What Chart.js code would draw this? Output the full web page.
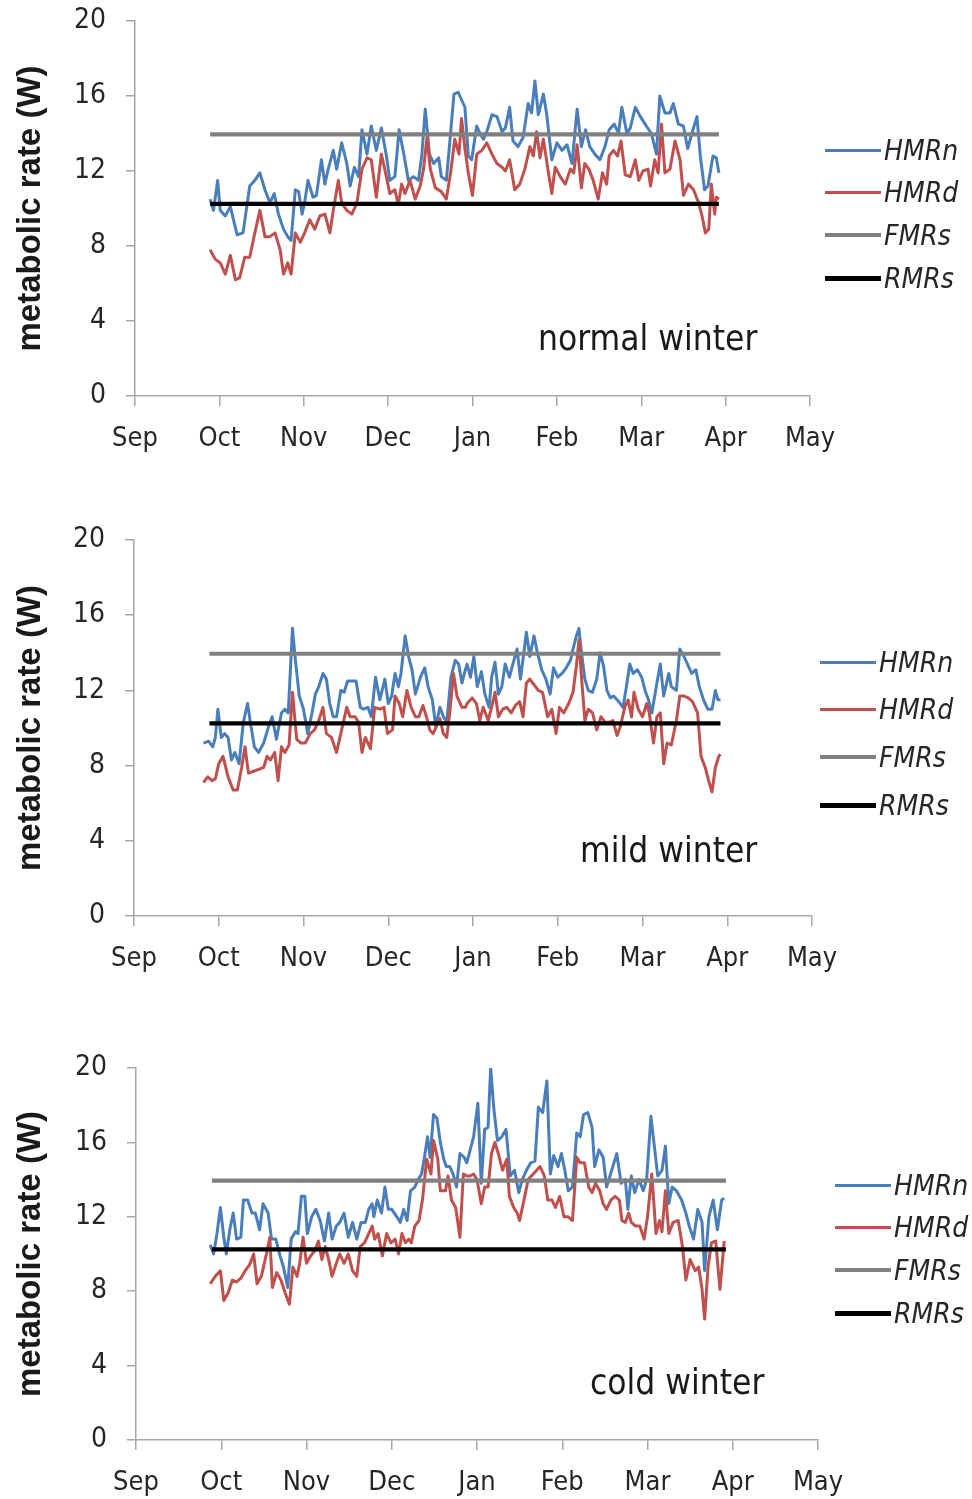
<!DOCTYPE html>
<html>
<head>
<meta charset="utf-8">
<script src="https://cdn.jsdelivr.net/npm/chart.js@4.4.1/dist/chart.umd.min.js"></script>
<style>
  html, body { margin: 0; padding: 0; background: #ffffff; }
  body { width: 972px; height: 1499px; position: relative; overflow: hidden; }
  .panel { position: absolute; left: 0; }
  .legend { position: absolute; font-family: 'Liberation Sans Narrow', 'DejaVu Sans Condensed', 'Liberation Sans', sans-serif; font-style: italic; font-size: 28px; color: #262626; }
  .legend .row { position: absolute; left: 0; display: flex; align-items: center; white-space: nowrap; }
  .legend .swatch { display: inline-block; width: 56px; margin-right: 3px; }
  .note { position: absolute; font-family: 'Liberation Sans Narrow', 'DejaVu Sans Condensed', 'Liberation Sans', sans-serif; font-size: 35px; color: #1a1a1a; white-space: nowrap; }
</style>
</head>
<body>
<div class="panel" style="top:-20px"><canvas id="c1" width="972" height="500"></canvas></div>
<div class="panel" style="top:500px"><canvas id="c2" width="972" height="500"></canvas></div>
<div class="panel" style="top:1020px"><canvas id="c3" width="972" height="479"></canvas></div>

<div class="legend" id="lg1" style="left:825px; top:129px;"></div>
<div class="legend" id="lg2" style="left:820px; top:641px;"></div>
<div class="legend" id="lg3" style="left:835px; top:1164px;"></div>

<div class="note" style="left:538px; top:318px;">normal winter</div>
<div class="note" style="left:580px; top:830px;">mild winter</div>
<div class="note" style="left:590px; top:1362px;">cold winter</div>

<script>
// ---------- tick labels ----------
const monthLabels = ['Sep','Oct','Nov','Dec','Jan','Feb','Mar','Apr','May'];
const yTicks = [0, 4, 8, 12, 16, 20];
const seriesNames = ['HMRn', 'HMRd', 'FMRs', 'RMRs'];

// ---------- constant reference levels (W) ----------
const fmrs = 13.95;
const rmrs = 10.25;
// x = months since 1 Sep (season span of the daily data)
const refLineX = [0.89, 6.92];

// ---------- normal winter ----------
const normalHMRnX = [0.89,0.93,0.98,1.01,1.07,1.13,1.21,1.28,1.36,1.42,1.48,1.54,1.60,1.65,1.70,1.76,1.81,1.85,1.90,1.94,1.98,2.01,2.05,2.11,2.15,2.21,2.25,2.29,2.35,2.39,2.45,2.51,2.55,2.60,2.65,2.69,2.75,2.80,2.86,2.92,2.98,3.02,3.08,3.13,3.19,3.24,3.30,3.36,3.40,3.44,3.49,3.54,3.60,3.63,3.69,3.73,3.78,3.83,3.89,3.91,3.95,3.99,4.05,4.09,4.13,4.17,4.23,4.29,4.35,4.39,4.44,4.48,4.54,4.60,4.66,4.70,4.74,4.78,4.84,4.88,4.94,5.00,5.06,5.12,5.18,5.24,5.29,5.34,5.39,5.45,5.51,5.57,5.62,5.68,5.73,5.77,5.83,5.87,5.93,5.99,6.06,6.12,6.18,6.22,6.28,6.34,6.38,6.44,6.50,6.55,6.60,6.66,6.70,6.75,6.79,6.85,6.89,6.92];
const normalHMRn  = [10.5,9.9,11.5,9.9,9.6,10.1,8.6,8.7,11.2,11.5,11.9,11.0,10.3,10.8,9.7,8.9,8.5,8.3,11.0,10.9,9.7,10.3,11.5,10.6,10.7,12.6,11.3,12.1,13.1,12.1,13.5,12.4,11.2,12.2,11.7,14.2,12.9,14.4,13.1,14.3,12.8,11.5,11.7,14.2,12.8,11.5,11.7,11.5,12.9,15.3,12.9,12.4,12.7,11.7,11.5,13.5,16.1,16.2,15.6,15.4,12.8,12.6,14.4,14.0,13.7,14.1,15.0,14.9,14.1,14.3,15.4,13.6,13.3,13.8,15.6,15.1,16.8,15.0,16.1,15.0,12.6,13.5,13.1,13.4,12.4,15.3,13.3,14.2,13.3,12.9,12.6,13.3,14.2,14.5,14.0,15.4,14.0,14.3,15.4,14.9,14.4,14.0,12.9,16.0,15.1,15.1,15.6,14.5,14.4,13.2,14.0,14.9,12.8,11.0,11.2,12.8,12.7,11.9];
const normalHMRdX = [0.89,0.95,1.01,1.07,1.13,1.19,1.24,1.30,1.36,1.42,1.48,1.54,1.60,1.66,1.72,1.76,1.81,1.85,1.90,1.96,2.01,2.07,2.13,2.19,2.25,2.31,2.35,2.41,2.45,2.51,2.57,2.63,2.69,2.75,2.80,2.86,2.92,2.96,3.02,3.08,3.12,3.16,3.20,3.26,3.32,3.38,3.42,3.46,3.50,3.56,3.63,3.69,3.74,3.79,3.84,3.87,3.91,3.95,4.00,4.05,4.11,4.17,4.23,4.29,4.35,4.39,4.44,4.50,4.56,4.62,4.68,4.72,4.76,4.80,4.84,4.90,4.94,4.98,5.04,5.10,5.16,5.20,5.24,5.29,5.33,5.38,5.43,5.49,5.54,5.59,5.62,5.67,5.72,5.76,5.81,5.87,5.93,5.97,6.02,6.08,6.11,6.16,6.20,6.24,6.28,6.34,6.40,6.46,6.50,6.56,6.62,6.68,6.72,6.76,6.80,6.83,6.87,6.89,6.92];
const normalHMRd  = [7.8,7.3,7.1,6.5,7.5,6.2,6.3,7.4,7.4,8.7,9.9,8.5,8.5,8.7,7.8,6.5,7.1,6.5,8.7,8.2,8.7,9.4,8.9,9.6,9.7,8.7,9.9,11.5,10.3,9.9,9.7,10.3,12.1,12.7,12.6,10.6,12.9,12.1,10.8,11.0,10.2,11.3,10.8,11.5,10.5,11.2,12.1,13.8,12.1,11.1,10.9,10.5,11.9,13.7,12.9,14.8,13.2,11.9,10.7,12.9,13.1,13.5,12.9,12.4,12.2,12.0,12.6,11.0,11.3,12.1,13.3,12.8,14.1,12.7,13.7,11.9,10.8,12.2,11.7,11.3,12.1,11.9,13.4,11.1,12.4,12.1,11.5,10.5,11.9,11.3,12.8,13.1,12.8,13.6,11.8,11.7,12.6,11.5,12.0,12.1,11.2,12.6,11.9,14.5,11.9,12.1,13.6,12.6,10.7,11.3,11.0,10.3,9.6,8.7,8.9,11.3,9.7,10.6,10.5];

// ---------- mild winter ----------
const mildHMRnX = [0.82,0.88,0.93,0.96,0.99,1.03,1.07,1.11,1.15,1.19,1.24,1.29,1.34,1.38,1.42,1.47,1.53,1.59,1.63,1.68,1.74,1.78,1.82,1.87,1.90,1.95,2.00,2.05,2.10,2.14,2.18,2.23,2.27,2.31,2.35,2.39,2.44,2.48,2.52,2.57,2.62,2.67,2.71,2.76,2.80,2.85,2.90,2.96,3.00,3.04,3.08,3.12,3.15,3.20,3.24,3.28,3.32,3.38,3.43,3.47,3.52,3.56,3.61,3.65,3.69,3.74,3.79,3.83,3.87,3.91,3.93,3.97,4.01,4.05,4.10,4.14,4.19,4.22,4.26,4.30,4.34,4.38,4.43,4.47,4.52,4.56,4.60,4.63,4.67,4.72,4.76,4.81,4.86,4.91,4.95,5.00,5.05,5.10,5.15,5.18,5.22,5.25,5.28,5.32,5.36,5.41,5.46,5.50,5.54,5.58,5.62,5.66,5.72,5.77,5.81,5.85,5.89,5.94,5.99,6.03,6.07,6.11,6.17,6.21,6.25,6.31,6.34,6.40,6.44,6.49,6.54,6.58,6.63,6.67,6.72,6.77,6.82,6.86,6.89,6.92];
const mildHMRn  = [9.2,9.3,9.0,9.5,11.0,9.5,9.7,9.5,8.3,8.7,8.1,10.3,11.3,10.1,9.0,8.7,9.2,10.1,10.6,9.4,10.8,11.0,10.8,15.3,13.8,11.7,11.0,9.7,10.8,11.8,12.2,12.9,12.6,11.3,10.6,10.6,12.0,11.9,12.5,12.5,12.5,11.1,11.0,11.1,10.6,12.7,11.5,12.6,11.3,11.7,12.9,12.2,12.9,14.9,13.8,13.1,11.8,12.7,13.2,12.2,11.5,10.1,11.1,10.6,10.3,12.7,13.6,13.4,12.4,13.1,13.4,12.7,13.8,12.2,13.0,11.8,11.1,12.7,13.5,11.8,12.2,13.4,12.7,13.4,14.2,12.6,14.0,15.1,13.8,14.9,14.0,13.1,12.6,11.8,13.2,12.7,12.9,13.2,13.6,14.2,14.9,15.3,14.0,12.6,12.0,11.9,12.6,14.0,13.3,12.0,11.6,11.7,11.4,11.1,12.2,13.4,12.9,13.1,12.7,12.0,11.5,10.8,12.4,13.4,11.7,12.9,12.2,12.0,14.2,13.8,13.3,12.9,13.1,12.2,11.5,11.0,11.0,12.0,11.5,11.5];
const mildHMRdX = [0.82,0.87,0.92,0.96,1.00,1.05,1.11,1.17,1.22,1.27,1.31,1.35,1.41,1.47,1.53,1.57,1.61,1.66,1.70,1.74,1.78,1.83,1.87,1.92,1.97,2.02,2.08,2.13,2.18,2.23,2.27,2.33,2.39,2.45,2.51,2.55,2.61,2.65,2.69,2.73,2.79,2.84,2.90,2.95,2.99,3.05,3.08,3.13,3.17,3.22,3.27,3.32,3.36,3.41,3.45,3.49,3.53,3.57,3.61,3.65,3.69,3.73,3.77,3.81,3.87,3.91,3.93,3.99,4.04,4.08,4.12,4.18,4.23,4.26,4.30,4.35,4.40,4.45,4.50,4.55,4.59,4.63,4.67,4.72,4.77,4.82,4.88,4.93,4.98,5.02,5.07,5.13,5.18,5.22,5.25,5.28,5.32,5.36,5.41,5.46,5.51,5.56,5.61,5.65,5.70,5.74,5.79,5.83,5.87,5.90,5.95,6.00,6.05,6.08,6.13,6.17,6.21,6.25,6.29,6.34,6.40,6.44,6.49,6.54,6.59,6.65,6.69,6.74,6.78,6.82,6.86,6.90,6.92];
const mildHMRd  = [7.1,7.4,7.2,7.3,8.1,8.5,7.4,6.7,6.7,7.9,9.0,7.6,7.7,7.8,7.9,8.5,8.3,8.7,7.2,9.0,8.7,9.1,11.9,9.4,9.2,9.2,9.7,9.9,10.4,11.1,9.7,9.5,8.7,9.9,11.1,10.6,10.6,10.3,8.7,9.5,8.9,11.1,11.0,11.1,9.7,9.9,11.7,11.3,10.6,12.0,11.1,10.6,10.6,11.2,10.6,9.9,9.7,10.1,10.5,9.7,9.5,11.0,12.9,11.7,11.1,11.1,11.3,11.6,11.3,10.4,11.1,10.4,11.3,11.9,10.6,11.0,11.1,10.8,11.2,11.4,10.6,12.4,12.6,12.3,12.0,11.9,10.6,11.0,9.7,11.1,10.8,11.3,11.9,13.3,14.7,12.7,10.4,11.0,10.8,9.9,10.6,10.3,10.3,10.4,9.6,10.1,11.1,11.5,10.6,11.9,11.0,10.6,11.3,10.8,9.2,10.6,10.8,8.1,9.2,9.1,10.4,11.7,11.7,11.6,11.4,10.8,8.5,7.9,7.2,6.6,7.9,8.5,8.6];

// ---------- cold winter ----------
const coldHMRnX = [0.87,0.91,0.95,0.99,1.03,1.06,1.10,1.14,1.18,1.23,1.26,1.31,1.36,1.40,1.45,1.49,1.55,1.59,1.64,1.69,1.73,1.78,1.82,1.87,1.90,1.94,1.98,2.01,2.06,2.11,2.16,2.21,2.26,2.30,2.35,2.39,2.44,2.49,2.54,2.59,2.64,2.69,2.73,2.77,2.79,2.83,2.88,2.92,2.96,3.00,3.06,3.10,3.14,3.18,3.22,3.27,3.31,3.35,3.38,3.42,3.45,3.49,3.53,3.57,3.61,3.64,3.68,3.72,3.76,3.80,3.85,3.88,3.92,3.96,4.01,4.05,4.09,4.13,4.16,4.20,4.24,4.29,4.34,4.39,4.44,4.49,4.53,4.58,4.63,4.68,4.72,4.77,4.82,4.86,4.90,4.95,4.99,5.03,5.07,5.12,5.17,5.21,5.25,5.30,5.35,5.38,5.43,5.48,5.52,5.58,5.64,5.69,5.74,5.77,5.81,5.85,5.90,5.95,5.99,6.04,6.08,6.12,6.17,6.21,6.25,6.29,6.34,6.40,6.45,6.49,6.54,6.59,6.64,6.67,6.72,6.77,6.82,6.87,6.90];
const coldHMRn  = [10.5,10.0,11.1,12.5,10.9,10.0,11.3,12.2,10.8,10.9,12.9,12.9,12.2,12.2,11.3,12.7,12.2,10.8,10.8,9.9,9.3,8.2,10.8,11.2,11.1,13.1,13.1,11.1,12.0,12.4,11.8,10.7,12.2,10.8,11.5,11.7,12.2,10.9,11.7,10.8,11.7,11.7,12.4,12.7,12.0,12.9,12.2,13.6,12.4,12.4,12.0,11.7,12.4,11.8,13.4,13.6,14.0,14.3,15.1,16.3,15.2,17.5,17.3,16.0,15.1,14.7,14.7,14.3,13.6,15.4,15.2,14.9,15.6,16.3,18.1,13.8,16.7,16.8,20.0,17.7,16.1,16.3,16.7,14.2,14.5,13.3,14.0,14.5,14.9,15.0,17.9,17.6,19.3,14.3,15.3,14.7,15.4,14.5,13.4,13.6,16.5,16.3,17.5,17.6,16.8,14.7,15.6,15.2,13.6,14.5,15.4,13.8,14.0,12.4,14.2,13.3,14.0,13.4,14.0,17.4,15.8,14.2,14.5,15.8,12.7,13.6,13.4,12.9,12.2,11.5,10.8,12.4,11.7,9.1,12.0,12.9,11.3,12.9,13.0];
const coldHMRdX = [0.87,0.93,0.99,1.03,1.08,1.13,1.18,1.23,1.28,1.33,1.38,1.42,1.47,1.53,1.57,1.60,1.65,1.70,1.75,1.80,1.84,1.89,1.92,1.96,2.00,2.05,2.10,2.14,2.18,2.22,2.26,2.30,2.35,2.39,2.44,2.49,2.54,2.59,2.63,2.68,2.73,2.77,2.80,2.84,2.89,2.94,2.99,3.04,3.08,3.12,3.16,3.20,3.23,3.27,3.32,3.36,3.41,3.46,3.49,3.54,3.57,3.63,3.66,3.70,3.75,3.80,3.84,3.88,3.92,3.96,4.00,4.05,4.09,4.13,4.17,4.21,4.25,4.30,4.35,4.38,4.43,4.47,4.50,4.56,4.60,4.66,4.70,4.74,4.79,4.83,4.88,4.92,4.97,5.02,5.07,5.12,5.17,5.21,5.26,5.31,5.35,5.39,5.44,5.48,5.52,5.57,5.62,5.67,5.70,5.74,5.78,5.81,5.86,5.91,5.96,6.00,6.05,6.10,6.14,6.17,6.21,6.25,6.30,6.36,6.41,6.45,6.50,6.56,6.60,6.64,6.67,6.71,6.75,6.80,6.85,6.90];
const coldHMRd  = [8.4,8.8,9.1,7.5,7.9,8.6,8.5,8.7,9.1,9.4,10.0,8.4,8.8,10.0,10.9,8.2,9.0,8.6,7.9,7.3,9.3,8.8,9.5,10.9,9.5,9.9,10.2,10.7,9.7,10.4,9.7,8.8,9.5,10.0,9.5,10.0,9.1,8.8,10.4,10.6,11.1,11.5,10.8,11.1,9.9,11.1,10.6,10.8,10.0,11.1,10.6,10.8,10.6,11.5,11.8,12.9,15.1,14.3,16.1,15.1,13.4,13.4,14.2,12.9,12.5,10.9,14.3,14.2,14.2,14.3,14.0,12.7,13.6,13.6,15.4,16.0,15.4,14.5,15.1,13.1,12.5,12.2,11.8,13.1,14.0,14.3,14.5,14.7,14.2,12.9,12.9,12.5,13.1,12.0,12.0,11.8,15.2,14.9,14.9,13.6,13.3,13.8,13.4,12.7,12.4,12.9,13.1,12.9,11.8,11.7,12.2,11.7,11.5,11.5,10.8,12.0,14.3,11.1,11.8,11.2,13.4,11.1,11.7,11.8,10.4,8.6,9.7,9.1,9.3,8.1,6.5,9.3,10.6,10.7,8.1,10.7];

// ---------- styling & geometry (not data) ----------
const colors = { HMRn: '#4a7ebb', HMRd: '#c0504d', FMRs: '#808080', RMRs: '#000000' };
const fontFam = "'Liberation Sans Narrow', 'DejaVu Sans Condensed', 'Liberation Sans', sans-serif";
const axisGray = '#a6a6a6';

function pts(xs, ys) { return xs.map((x, i) => ({ x: x, y: ys[i] })); }
function flat(v) { return refLineX.map(x => ({ x: x, y: v })); }

function makeChart(id, geo, nX, n, dX, d) {
  const ctx = document.getElementById(id);
  const pad = { top: geo.top, left: 0, right: geo.right, bottom: ctx.height - geo.bottom - 62 };
  const chart = new Chart(ctx, {
    type: 'line',
    data: {
      datasets: [
        { label: 'RMRs', data: flat(rmrs), borderColor: colors.RMRs, borderWidth: 4.2, pointRadius: 0 },
        { label: 'FMRs', data: flat(fmrs), borderColor: colors.FMRs, borderWidth: 4.2, pointRadius: 0 },
        { label: 'HMRd', data: pts(dX, d), borderColor: colors.HMRd, borderWidth: 3, pointRadius: 0 },
        { label: 'HMRn', data: pts(nX, n), borderColor: colors.HMRn, borderWidth: 3, pointRadius: 0 }
      ]
    },
    options: {
      responsive: false,
      animation: false,
      devicePixelRatio: 1,
      layout: { padding: pad },
      plugins: { legend: { display: false }, tooltip: { enabled: false } },
      elements: { line: { tension: 0, borderJoinStyle: 'round', borderCapStyle: 'butt' } },
      scales: {
        x: {
          type: 'linear', min: 0, max: 8,
          afterFit: (s) => { s.height = 62; },
          afterBuildTicks: (s) => { s.ticks = monthLabels.map((m, i) => ({ value: i })); },
          ticks: { autoSkip: false, maxRotation: 0, padding: 17, color: '#262626',
                   font: { family: fontFam, size: 27 },
                   callback: (v) => monthLabels[v] },
          grid: { drawOnChartArea: false, drawTicks: true, tickLength: 10, color: axisGray, lineWidth: 1.5 },
          border: { display: true, color: axisGray, width: 1.5 }
        },
        y: {
          min: 0, max: 20,
          afterFit: (s) => { s.width = geo.left; },
          afterBuildTicks: (s) => { s.ticks = yTicks.map(v => ({ value: v })); },
          ticks: { padding: 20, color: '#262626', font: { family: fontFam, size: 28 } },
          grid: { drawOnChartArea: false, drawTicks: true, tickLength: 9, color: axisGray, lineWidth: 1.5 },
          border: { display: true, color: axisGray, width: 1.5 },
          title: { display: true, text: 'metabolic rate (W)', color: '#1a1a1a',
                   font: { family: "'Liberation Sans', Arial, sans-serif", size: 33, weight: 'bold' },
                   padding: { top: 11, bottom: 0 } }
        }
      }
    }
  });
  // nudge layout padding so the plot area lands on the wanted rows
  for (let k = 0; k < 5; k++) {
    const ca = chart.chartArea;
    const dt = geo.top - ca.top, db = ca.bottom - geo.bottom;
    if (Math.abs(dt) < 0.25 && Math.abs(db) < 0.25) break;
    const p = chart.config.options.layout.padding;
    p.top += dt; p.bottom += db;
    chart.update();
  }
  return chart;
}

function makeLegend(id, spacing) {
  const box = document.getElementById(id);
  seriesNames.forEach((name, i) => {
    const row = document.createElement('div');
    row.className = 'row';
    row.style.top = (i * spacing) + 'px';
    row.style.height = '42px';
    const sw = document.createElement('span');
    sw.className = 'swatch';
    sw.style.height = (name === 'HMRn' || name === 'HMRd') ? '3px' : (name === 'RMRs' ? '5px' : '4px');
    sw.style.background = colors[name];
    const tx = document.createElement('span');
    tx.textContent = name;
    row.appendChild(sw); row.appendChild(tx);
    box.appendChild(row);
  });
}

// geometry in canvas pixels: plot top/bottom rows, plot left edge, right padding
makeChart('c1', { top: 41, bottom: 416, left: 135, right: 162 }, normalHMRnX, normalHMRn, normalHMRdX, normalHMRd);
makeChart('c2', { top: 40, bottom: 416, left: 134, right: 160 }, mildHMRnX, mildHMRn, mildHMRdX, mildHMRd);
makeChart('c3', { top: 48, bottom: 420, left: 136, right: 154 }, coldHMRnX, coldHMRn, coldHMRdX, coldHMRd);

makeLegend('lg1', 42.7);
makeLegend('lg2', 47.7);
makeLegend('lg3', 42.7);
</script>
</body>
</html>
